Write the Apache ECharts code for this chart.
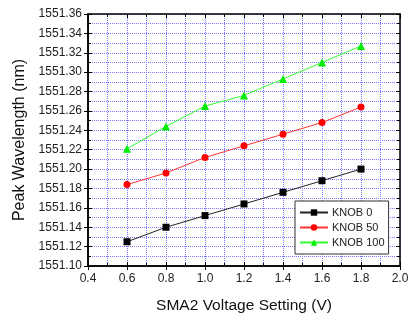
<!DOCTYPE html>
<html>
<head>
<meta charset="utf-8">
<script src="https://cdn.jsdelivr.net/npm/echarts@6/dist/echarts.min.js"></script>
<style>
  html, body { margin: 0; padding: 0; background: #fff; }
  #main { width: 417px; height: 314px; }
</style>
</head>
<body>
<div id="main"></div>
<script>
// voltage setting (V)
var voltage = [0.6, 0.8, 1.0, 1.2, 1.4, 1.6, 1.8];
// peak wavelength (nm) per knob position
var knob0 = [1551.125, 1551.140, 1551.152, 1551.164, 1551.176, 1551.188, 1551.200];
var knob50 = [1551.184, 1551.196, 1551.212, 1551.224, 1551.236, 1551.248, 1551.264];
var knob100 = [1551.221, 1551.244, 1551.265, 1551.276, 1551.293, 1551.310, 1551.327];
var seriesNames = ['KNOB 0', 'KNOB 50', 'KNOB 100'];

function pairs(ys) {
    var out = [];
    for (var i = 0; i < voltage.length; i++) {
        out.push([voltage[i], ys[i]]);
    }
    return out;
}

var chart = echarts.init(document.getElementById('main'));
var font = 'Liberation Sans, Arial, sans-serif';
var gridDot = {show: true, lineStyle: {color: '#7777ff', width: 1, type: [1, 1]}};

// extra axes only draw inside ticks / frame, no labels
function frameX(pos) {
    return {
        type: 'value', position: pos, min: 0.4, max: 2.0, interval: 0.2,
        axisLine: {show: true, onZero: false, lineStyle: {color: '#000', width: 1.5}},
        axisTick: {show: true, inside: true, length: 4, lineStyle: {color: '#000'}},
        minorTick: {show: true, splitNumber: 2, length: 3, lineStyle: {color: '#000'}},
        axisLabel: {show: false}, splitLine: {show: false}
    };
}
function frameY(pos) {
    return {
        type: 'value', position: pos, min: 1551.10, max: 1551.36, interval: 0.02,
        axisLine: {show: true, onZero: false, lineStyle: {color: '#000', width: 1.5}},
        axisTick: {show: true, inside: true, length: 4, lineStyle: {color: '#000'}},
        minorTick: {show: true, splitNumber: 2, length: 3, lineStyle: {color: '#000'}},
        axisLabel: {show: false}, splitLine: {show: false}
    };
}

var option = {
    backgroundColor: '#fff',
    animation: false,
    grid: {left: 88, right: 17, top: 14, bottom: 48, containLabel: false, outerBoundsMode: 'none'},
    legend: {
        orient: 'vertical',
        left: 295, top: 201,
        padding: [6, 4, 6, 4],
        itemGap: 4,
        itemWidth: 28, itemHeight: 8,
        borderColor: '#333', borderWidth: 1,
        backgroundColor: '#fff',
        textStyle: {fontFamily: font, fontSize: 11, color: '#222', padding: [0, 0, 0, -1]},
        data: seriesNames
    },
    xAxis: [{
        type: 'value', position: 'bottom', min: 0.4, max: 2.0, interval: 0.2,
        name: 'SMA2 Voltage Setting (V)', nameLocation: 'middle', nameGap: 32,
        nameTextStyle: {fontFamily: font, fontSize: 15.5, color: '#111'},
        axisLine: {show: true, onZero: false, lineStyle: {color: '#000', width: 1.5}},
        axisTick: {show: true, inside: false, length: 4, lineStyle: {color: '#000'}},
        axisLabel: {fontFamily: font, fontSize: 12, color: '#222', margin: 7,
            formatter: function (v) { return v.toFixed(1); }},
        splitLine: gridDot,
        minorTick: {show: false, splitNumber: 2},
        minorSplitLine: gridDot
    }, frameX('bottom'), frameX('top')],
    yAxis: [{
        type: 'value', position: 'left', min: 1551.10, max: 1551.36, interval: 0.02,
        name: 'Peak Wavelength (nm)', nameLocation: 'middle', nameGap: 54,
        nameTextStyle: {fontFamily: font, fontSize: 16, color: '#111'},
        axisLine: {show: true, onZero: false, lineStyle: {color: '#000', width: 1.5}},
        axisTick: {show: true, inside: false, length: 4, lineStyle: {color: '#000'}},
        axisLabel: {fontFamily: font, fontSize: 12, color: '#222', margin: 6,
            formatter: function (v) { return v.toFixed(2); }},
        splitLine: gridDot,
        minorTick: {show: false, splitNumber: 2},
        minorSplitLine: gridDot
    }, frameY('left'), frameY('right')],
    series: [{
        name: seriesNames[0], type: 'line', data: pairs(knob0),
        symbol: 'rect', symbolSize: 7,
        itemStyle: {color: '#000'},
        lineStyle: {color: '#222', width: 1}
    }, {
        name: seriesNames[1], type: 'line', data: pairs(knob50),
        symbol: 'circle', symbolSize: 7,
        itemStyle: {color: '#ff0000'},
        lineStyle: {color: '#ff3333', width: 1}
    }, {
        name: seriesNames[2], type: 'line', data: pairs(knob100),
        symbol: 'triangle', symbolSize: 8,
        itemStyle: {color: '#00ee00'},
        lineStyle: {color: '#33ff33', width: 1}
    }]
};
chart.setOption(option);
</script>
</body>
</html>
